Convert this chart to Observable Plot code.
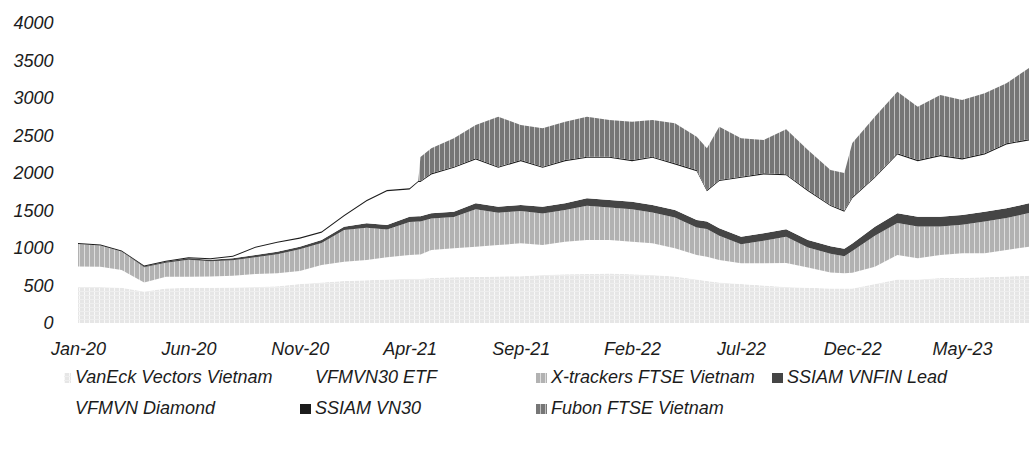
<!DOCTYPE html>
<html><head><meta charset="utf-8">
<script src="https://cdn.jsdelivr.net/npm/d3@7"></script>
<script src="https://cdn.jsdelivr.net/npm/@observablehq/plot@0.6"></script>
<style>
body{margin:0;background:#fff;font-family:"Liberation Sans",Arial,sans-serif;font-style:italic;color:#1c1c1c}
#legend{display:grid;grid-template-columns:240px 236px 236px 250px;margin-left:60px;font-size:18px;line-height:31px}
.item{display:flex;align-items:center;white-space:nowrap}
.item svg{margin-right:4px;flex:none}
</style></head><body>
<svg width="0" height="0" style="position:absolute"><defs>
<pattern id="pVanEck" width="5" height="4" patternUnits="userSpaceOnUse"><rect width="5" height="4" fill="#e6e6e6"/><rect x="4" width="1" height="4" fill="#f8f8f8"/><rect y="3" width="5" height="1" fill="#eeeeee"/></pattern>
<pattern id="pXtr" width="5" height="4" patternUnits="userSpaceOnUse"><rect width="5" height="4" fill="#b2b2b2"/><rect x="4" width="1" height="4" fill="#dedede"/></pattern>
<pattern id="pFubon" width="5" height="4" patternUnits="userSpaceOnUse"><rect width="5" height="4" fill="#767676"/><rect x="4" width="1" height="4" fill="#c0c0c0"/></pattern>
</defs></svg>
<div id="chart"></div>
<div id="legend"></div>
<script>
// Observation dates (monthly, plus a few extra dates at visible jumps)
const dates = ["2020-01-01","2020-02-01","2020-03-01","2020-04-01","2020-05-01","2020-06-01","2020-07-01","2020-08-01","2020-09-01","2020-10-01","2020-11-01","2020-12-01",
"2021-01-01","2021-02-01","2021-03-01","2021-04-01","2021-04-13","2021-04-16","2021-05-01","2021-06-01","2021-07-01","2021-08-01","2021-09-01","2021-10-01","2021-11-01","2021-12-01",
"2022-01-01","2022-02-01","2022-03-01","2022-04-01","2022-05-01","2022-05-15","2022-06-01","2022-07-01","2022-08-01","2022-09-01","2022-10-01","2022-11-01","2022-11-20","2022-12-01",
"2023-01-01","2023-02-01","2023-03-01","2023-04-01","2023-05-01","2023-06-01","2023-07-01","2023-08-01"];

const seriesNames = ["VanEck Vectors Vietnam","VFMVN30 ETF","X-trackers FTSE Vietnam","SSIAM VNFIN Lead","VFMVN Diamond","SSIAM VN30","Fubon FTSE Vietnam"];

const vanEck   = [480,480,470,420,460,470,470,475,480,490,520,540,560,570,580,590,590,590,600,610,615,620,625,640,650,655,660,650,640,620,580,560,540,520,500,480,470,460,460,460,520,580,580,600,600,610,620,630];
const vfmvn30  = [275,270,237,120,158,148,150,155,173,173,175,233,258,270,296,317,325,325,373,386,403,420,437,400,434,452,447,434,422,376,327,324,300,276,296,320,270,215,205,210,231,327,282,307,329,319,353,388];
const xtrackers= [300,285,248,205,185,224,205,207,224,253,288,294,421,429,371,441,440,440,419,418,498,431,431,421,422,455,433,434,411,411,366,370,322,255,300,350,267,250,225,290,413,425,426,381,381,425,426,448];
const vnfin    = [0,0,0,10,15,20,20,25,30,35,35,40,45,60,60,70,70,70,70,70,80,80,80,90,90,100,100,100,100,100,100,100,100,100,100,100,100,100,100,100,120,130,130,130,130,130,130,130];
const diamond  = [0,0,0,0,0,0,5,20,96,118,107,96,141,296,451,363,455,455,519,585,585,518,585,518,562,541,563,540,630,607,652,404,630,785,785,720,651,535,495,605,652,785,740,807,741,763,852,839];
const vn30     = [12,12,12,12,12,14,14,15,15,15,16,16,16,16,16,16,15,15,15,15,15,15,15,15,15,15,15,15,15,15,15,15,15,15,15,15,15,15,15,15,15,15,15,15,15,15,15,15];
const fubon    = [0,0,0,0,0,0,0,0,0,0,0,0,0,0,0,0,0,320,333,378,444,667,467,512,511,533,489,511,489,533,444,556,711,511,444,600,534,465,500,720,800,822,711,800,777,800,800,950];

const yTicks = [0,500,1000,1500,2000,2500,3000,3500,4000];
const xTickLabels = ["Jan-20","Jun-20","Nov-20","Apr-21","Sep-21","Feb-22","Jul-22","Dec-22","May-23"];

const fills = ["url(#pVanEck)","#ffffff","url(#pXtr)","#454545","#ffffff","#1c1c1c","url(#pFubon)"];

const seriesValues = [vanEck, vfmvn30, xtrackers, vnfin, diamond, vn30, fubon];
const parseDate = d3.utcParse("%Y-%m-%d");
const rows = [];
seriesNames.forEach((s, i) => {
  dates.forEach((d, j) => rows.push({date: parseDate(d), series: s, value: seriesValues[i][j]}));
});
const parseTick = d3.utcParse("%b-%y");
const xTickDates = xTickLabels.map(parseTick);

const chart = Plot.plot({
  width: 1029, height: 362,
  marginTop: 23, marginBottom: 39, marginLeft: 78, marginRight: 0,
  style: {fontFamily: '"Liberation Sans", Arial, sans-serif', fontSize: "18px", fontStyle: "italic", color: "#1c1c1c", background: "white"},
  x: {type: "utc", domain: [new Date(Date.UTC(2020,0,1)), new Date(Date.UTC(2023,7,1))], ticks: xTickDates, tickFormat: d3.utcFormat("%b-%y"), tickSize: 0, tickPadding: 19, label: null},
  y: {domain: [0, 4000], ticks: yTicks, tickFormat: d => String(d), tickSize: 0, tickPadding: 25, label: null},
  color: {domain: seriesNames, range: fills},
  marks: [
    Plot.areaY(rows, {x: "date", y: "value", fill: "series", order: seriesNames, curve: "linear", clip: true})
  ]
});
document.getElementById("chart").appendChild(chart);

const legend = document.getElementById("legend");
seriesNames.forEach((s, i) => {
  const it = document.createElement("div");
  it.className = "item";
  const w = i === 0 ? 7 : 11;
  it.innerHTML = `<svg width="11" height="10"><rect x="${11-w}" y="0" width="${w}" height="10" fill="${fills[i]}"/></svg><span>${s}</span>`;
  legend.appendChild(it);
});
</script>
</body></html>
